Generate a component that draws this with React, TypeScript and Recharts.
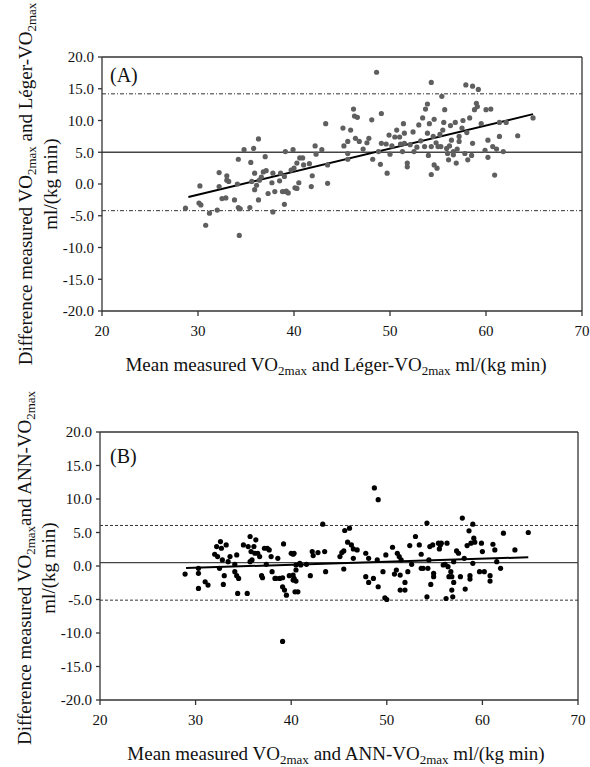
import {
  ScatterChart,
  Scatter,
  XAxis,
  YAxis,
  ReferenceLine,
} from 'recharts';

// Bland-Altman data: [mean, difference]
const LEGER_POINTS: [number, number][] = [
  [28.7, -3.8], [30.2, -0.3], [30.1, -3.0], [30.3, -3.3], [30.8, -6.5], [31.2, -4.6],
  [32.2, 1.8], [32.0, -4.1], [32.2, -0.4], [32.5, -2.3], [32.9, -2.2], [33.0, 0.6],
  [33.0, 1.3], [33.2, 0.4], [33.8, -2.5], [34.1, 0.0], [34.2, 3.9], [34.2, -3.7],
  [34.4, -3.9], [34.3, -8.1], [34.8, 5.4], [35.4, -3.7], [35.5, 3.4], [35.6, 0.4],
  [35.8, 5.6], [35.9, -0.9], [35.9, 1.7], [36.1, -0.2], [36.3, -2.5], [36.4, 0.6],
  [36.3, 7.1], [36.6, 1.1], [37.0, 4.3], [36.8, 1.9], [37.1, 2.1], [37.3, -1.5],
  [37.7, 0.2], [37.8, 1.7], [38.0, -1.2], [37.8, -4.4], [38.5, 0.5], [38.6, 1.7],
  [39.0, -3.2], [39.0, 1.2], [39.1, 5.1], [39.2, -1.1], [39.4, -1.4], [39.7, 2.2],
  [39.9, 5.4], [40.1, -0.6], [38.8, -1.2], [39.1, -1.2], [40.0, 2.5], [40.3, 3.3],
  [40.3, -0.7], [40.5, 0.2], [40.6, 4.1], [40.9, 4.1], [41.0, 3.0], [41.6, 3.2],
  [41.8, -0.4], [41.9, 1.3], [42.2, 6.0], [42.3, 4.7], [42.9, 5.4], [43.3, 9.5],
  [43.5, 3.0], [43.5, 0.1], [45.1, 8.8], [45.2, 6.0], [45.6, 6.7], [45.6, 4.8],
  [45.6, 3.9], [45.9, 8.5], [46.2, 11.8], [46.3, 10.7], [46.6, 10.5], [46.4, 7.2],
  [46.8, 6.7], [47.6, 6.5], [47.8, 7.2], [48.1, 10.1], [48.2, 3.9], [48.6, 17.6],
  [48.8, 5.1], [49.1, 6.4], [49.0, 3.1], [49.1, 11.1], [49.6, 6.3], [49.7, 1.7],
  [49.9, 7.7], [50.0, 4.7], [50.5, 7.4], [50.7, 8.5], [51.0, 7.4], [51.1, 6.3],
  [51.3, 5.1], [51.4, 9.5], [51.5, 6.4], [51.8, 3.3], [51.8, 2.7], [52.1, 6.2],
  [52.4, 8.2], [52.5, 5.1], [53.0, 9.3], [53.4, 10.4], [53.6, 5.9], [53.7, 11.8],
  [53.9, 12.6], [53.9, 8.0], [54.1, 9.5], [54.3, 16.0], [54.3, 1.5], [54.3, 5.9],
  [54.5, 7.5], [54.6, 10.2], [54.6, 3.0], [54.8, 6.5], [54.9, 2.5], [55.0, 5.9],
  [55.3, 5.9], [55.4, 13.8], [55.5, 8.5], [55.6, 9.7], [55.7, 11.7], [55.9, 5.6],
  [56.0, 4.8], [56.1, 3.8], [56.3, 9.2], [56.4, 6.9], [56.6, 5.1], [56.6, 4.6],
  [56.8, 9.7], [56.9, 3.3], [57.2, 7.5], [57.2, 6.7], [57.6, 10.0], [57.8, 4.8],
  [57.9, 15.6], [58.0, 8.1], [58.1, 3.8], [58.3, 10.4], [58.6, 15.4], [58.6, 6.4],
  [58.8, 11.7], [59.0, 12.7], [59.1, 12.2], [59.2, 14.9], [59.9, 5.3], [60.0, 11.7],
  [60.2, 6.9], [60.2, 4.2], [60.5, 11.8], [60.7, 5.9], [60.9, 1.4], [61.1, 5.5],
  [61.4, 7.5], [61.4, 9.7], [61.8, 5.1], [62.1, 9.7], [63.3, 7.6], [64.9, 10.4],
  [53.2, 6.8], [54.0, 4.5], [55.2, 7.8], [56.2, 6.0], [57.0, 5.5], [57.5, 8.8],
  [58.5, 4.5], [59.5, 9.5], [52.8, 5.8], [50.2, 6.0], [51.5, 8.0], [47.2, 5.5],
];

const ANN_POINTS: [number, number][] = [
  [28.9, -1.2], [30.3, -0.35], [30.3, -1.1], [30.3, -3.35], [31.0, -2.35], [31.3, -2.85],
  [32.0, 1.75], [32.2, 2.9], [32.3, 1.4], [32.5, -0.35], [32.6, 3.65], [32.7, 2.65],
  [32.8, 0.9], [32.9, -2.75], [33.0, -1.45], [33.2, 3.15], [33.4, 0.65], [33.6, 1.4],
  [34.1, 0.25], [34.1, -0.85], [34.3, 1.65], [34.3, -1.45], [34.4, -4.1], [34.5, -1.85],
  [35.0, 3.15], [35.4, -4.1], [35.5, 2.9], [35.7, 0.65], [35.7, 4.4], [35.8, 2.15],
  [35.9, 0.9], [36.1, 2.9], [36.2, 1.9], [36.3, 3.9], [36.5, 1.9], [36.7, 1.4],
  [36.9, -1.45], [37.0, -1.75], [37.2, 2.65], [37.4, 0.25], [37.5, 2.65], [37.7, 2.4],
  [37.9, 1.4], [38.0, -0.85], [38.3, -1.85], [38.4, -1.85], [38.6, 1.15], [38.8, -1.85],
  [39.1, -3.1], [39.1, -11.25], [39.2, 3.3], [39.3, -3.6], [39.5, -4.35], [39.8, -1.45],
  [40.0, 1.9], [40.2, -2.1], [40.4, -3.85], [40.5, 0.15], [39.1, -1.75], [40.2, 1.75],
  [40.3, 1.9], [40.2, -1.35], [40.3, -1.85], [40.5, -2.25], [40.7, -3.85], [40.5, -0.6],
  [40.9, 0.4], [41.0, 0.15], [41.6, 0.25], [42.0, -1.45], [42.2, 2.15], [42.3, 1.55],
  [42.8, 2.0], [43.3, 6.25], [43.5, 2.15], [43.6, -0.85], [45.1, 1.4], [45.3, 2.0],
  [45.5, -0.45], [45.5, 2.25], [45.6, 5.3], [46.1, 5.65], [45.9, 3.55], [46.3, 3.15],
  [46.5, 2.55], [46.5, 1.15], [46.9, 2.4], [47.8, 1.9], [47.8, -1.6], [48.1, -2.45],
  [48.1, 1.15], [48.6, -1.85], [48.7, 11.65], [49.1, 9.9], [49.0, 0.9], [49.1, -3.1],
  [49.6, -0.85], [49.8, -4.75], [50.0, -5.0], [49.9, 1.65], [50.6, 2.8], [50.8, -1.2],
  [51.0, -0.6], [51.1, 1.9], [51.3, 1.4], [51.4, -1.35], [51.4, -3.6], [51.5, 0.9],
  [51.9, -2.45], [51.9, -3.6], [52.2, -0.85], [52.4, 3.05], [52.6, 0.25], [53.0, 4.4],
  [53.4, 3.15], [53.6, 1.75], [53.6, -0.35], [53.8, -0.35], [54.2, 6.4], [54.2, -4.6],
  [54.3, -0.35], [54.4, 0.9], [54.5, 2.9], [54.6, -2.75], [54.8, 3.15], [54.9, -1.1],
  [54.9, -1.6], [55.4, 3.4], [55.5, 2.55], [55.6, 3.15], [55.7, 3.4], [55.9, 0.15],
  [56.1, 0.25], [56.3, 3.4], [56.2, -4.85], [56.4, -0.1], [56.5, -1.6], [56.7, -0.85],
  [56.8, -3.6], [56.8, -1.6], [56.9, -4.6], [57.0, -2.45], [57.0, 0.65], [57.3, 2.25],
  [57.5, 1.9], [57.7, -1.6], [57.9, 7.15], [58.1, 1.15], [58.2, -3.45], [58.4, 3.05],
  [58.6, 5.25], [58.7, -1.45], [58.7, -1.95], [58.8, 3.4], [59.0, 6.25], [59.0, 0.4],
  [59.1, 4.15], [59.2, 3.55], [59.7, -0.85], [59.9, 3.4], [60.0, 2.15], [60.2, -0.85],
  [60.8, -1.45], [60.8, -2.25], [61.1, 3.25], [61.3, 2.4], [61.5, 0.65], [61.9, -0.35],
  [62.2, 4.9], [63.4, 2.4], [64.8, 5.0],
];

// mean difference and limits of agreement
const LEGER_LIMITS = { mean: 5.0, upper: 14.2, lower: -4.2 };
const ANN_LIMITS = { mean: 0.5, upper: 6.05, lower: -5.1 };

// regression line end points
const LEGER_FIT = [{ x: 29.0, y: -2.05 }, { x: 64.9, y: 11.0 }];
const ANN_FIT = [{ x: 29.0, y: -0.3 }, { x: 64.8, y: 1.3 }];

const X_TICKS = [20, 30, 40, 50, 60, 70];
const Y_TICKS = [-20, -15, -10, -5, 0, 5, 10, 15, 20];

const FONT = '"Liberation Serif", "Times New Roman", serif';
const AXIS = '#333';

const toXY = (pts: [number, number][]) => pts.map(([x, y]) => ({ x, y }));

function Panel({
  data, limits, fit, color, dash, top, height, left, right,
}: {
  data: [number, number][];
  limits: { mean: number; upper: number; lower: number };
  fit: { x: number; y: number }[];
  color: string;
  dash: string;
  top: number;
  height: number;
  left: number;
  right: number;
}) {
  const tick = { fontSize: 15, fill: '#111', fontFamily: FONT };
  return (
    <div style={{ position: 'absolute', left: 0, top }}>
      <ScatterChart width={590} height={height} margin={{ top: 57, right, left, bottom: height - 57 - 30 - (height === 390 ? 254 : 268) }}>
        <XAxis
          type="number"
          dataKey="x"
          domain={[20, 70]}
          ticks={X_TICKS}
          tick={tick}
          tickSize={5}
          tickMargin={9}
          stroke={AXIS}
          strokeWidth={1.3}
          height={30}
        />
        <YAxis
          type="number"
          dataKey="y"
          domain={[-20, 20]}
          ticks={Y_TICKS}
          tick={tick}
          tickFormatter={(v: number) => v.toFixed(1)}
          tickSize={4}
          tickMargin={4}
          stroke={AXIS}
          strokeWidth={1.3}
          width={60}
        />
        <ReferenceLine y={20} stroke={AXIS} strokeWidth={1.3} />
        <ReferenceLine x={70} stroke={AXIS} strokeWidth={1.3} />
        <ReferenceLine y={limits.upper} stroke="#333" strokeWidth={1} strokeDasharray={dash} />
        <ReferenceLine y={limits.lower} stroke="#333" strokeWidth={1} strokeDasharray={dash} />
        <ReferenceLine y={limits.mean} stroke="#444" strokeWidth={1.3} />
        <Scatter
          data={toXY(data)}
          fill={color}
          isAnimationActive={false}
          shape={(p: any) => <circle cx={p.cx} cy={p.cy} r={2.6} fill={color} />}
        />
        <ReferenceLine segment={fit} stroke="#000" strokeWidth={2} />
      </ScatterChart>
    </div>
  );
}

function Titles() {
  const big = { fontFamily: FONT, fontSize: 19, fill: '#111' };
  const sub = 13;
  const xTitle = (y: number, name: string) => (
    <text x={336} y={y} textAnchor="middle" style={big}>
      Mean measured VO<tspan dy={4} fontSize={sub}>2max</tspan>
      <tspan dy={-4}> and {name}-VO</tspan>
      <tspan dy={4} fontSize={sub}>2max</tspan>
      <tspan dy={-4}> ml/(kg min)</tspan>
    </text>
  );
  const yTitle = (cy: number, x1: number, x2: number, name: string, gap: string) => (
    <g>
      <text transform={`translate(${x1},${cy}) rotate(-90)`} textAnchor="middle" style={big}>
        Difference measured VO<tspan dy={4} fontSize={sub}>2max</tspan>
        <tspan dy={-4}>{gap}and {name}-VO</tspan>
        <tspan dy={4} fontSize={sub}>2max</tspan>
      </text>
      <text transform={`translate(${x2},${cy}) rotate(-90)`} textAnchor="middle" style={big}>
        ml/(kg min)
      </text>
    </g>
  );
  return (
    <svg width={590} height={767} style={{ position: 'absolute', left: 0, top: 0, pointerEvents: 'none' }}>
      {yTitle(184, 32, 57, 'Léger', ' ')}
      {xTitle(371, 'Léger')}
      <text x={110} y={82} style={{ ...big, fontSize: 20 }}>(A)</text>
      {yTitle(568, 31, 55, 'ANN', '')}
      {xTitle(760, 'ANN')}
      <text x={110} y={463} style={{ ...big, fontSize: 20 }}>(B)</text>
    </svg>
  );
}

export default function App() {
  return (
    <div style={{ position: 'absolute', left: 0, top: 0, width: 590, height: 767, background: '#fff' }}>
      <Panel data={LEGER_POINTS} limits={LEGER_LIMITS} fit={LEGER_FIT} color="#5f5f5f" dash="4 2 1 2" top={0} height={390} left={42} right={8} />
      <Panel data={ANN_POINTS} limits={ANN_LIMITS} fit={ANN_FIT} color="#000" dash="3 2" top={375} height={392} left={40} right={12} />
      <Titles />
    </div>
  );
}
